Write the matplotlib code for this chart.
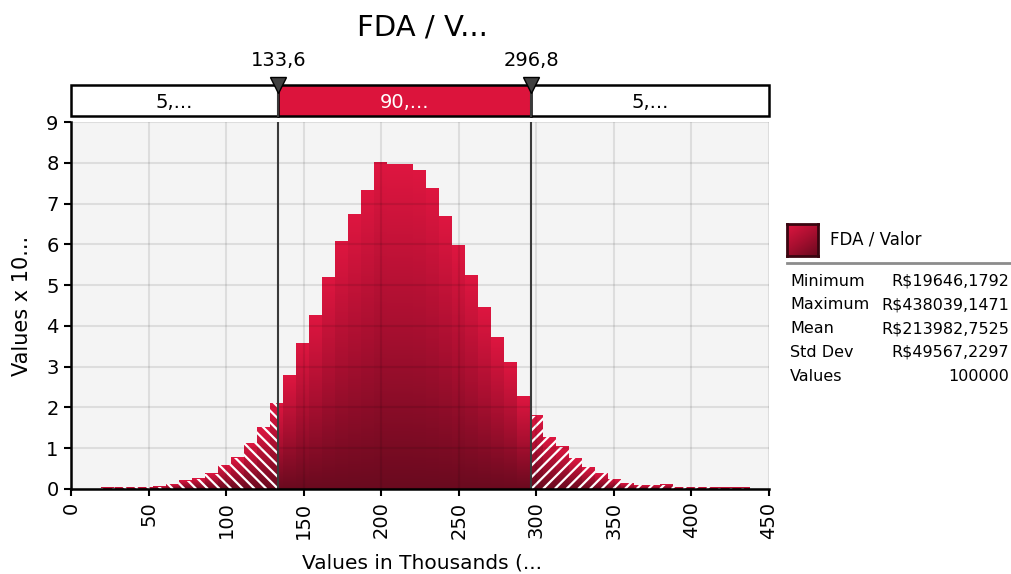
import numpy as np
import matplotlib
matplotlib.use('Agg')
import matplotlib.pyplot as plt
from matplotlib.colors import LinearSegmentedColormap
from matplotlib.patches import Rectangle, PathPatch
from matplotlib.path import Path
from matplotlib.collections import LineCollection
from matplotlib.lines import Line2D

# histogram of FDA / Valor (values in thousands, density x 10^-6)
data_min = 19.6461792
data_max = 438.0391471
heights = [0.03, 0.04, 0.04, 0.04, 0.05, 0.12, 0.20, 0.25, 0.38, 0.58,
           0.77, 1.12, 1.51, 2.10, 2.79, 3.58, 4.26, 5.19, 6.07, 6.73,
           7.32, 8.00, 7.95, 7.95, 7.80, 7.36, 6.68, 5.97, 5.24, 4.46,
           3.72, 3.09, 2.26, 1.80, 1.27, 1.03, 0.75, 0.53, 0.39, 0.24,
           0.14, 0.09, 0.09, 0.10, 0.04, 0.04, 0.04, 0.03, 0.03, 0.03]
cut_lo, cut_hi = 133.6, 296.8
band_labels = ['5,...', '90,...', '5,...']
cut_labels = ['133,6', '296,8']
stat_names = ['Minimum', 'Maximum', 'Mean', 'Std Dev', 'Values']
stat_values = ['R$19646,1792', 'R$438039,1471', 'R$213982,7525', 'R$49567,2297', '100000']

W, H = 1011, 574
fig = plt.figure(figsize=(W / 100, H / 100), dpi=100)
fig.patch.set_facecolor('white')

cmap = LinearSegmentedColormap.from_list('fda', ['#6a0a1f', '#a80f30', '#de1640'])
grad = np.linspace(0, 1, 256).reshape(-1, 1)

ax = fig.add_axes([71 / W, 1 - 489 / H, 698 / W, 367 / H])
ax.set_facecolor('#f4f4f4')

edges = np.linspace(data_min, data_max, len(heights) + 1)
left_paths, right_paths = [], []
for i, h in enumerate(heights):
    lo, hi = edges[i], edges[i + 1]
    for a, b, part in [(lo, min(hi, cut_lo), 'L'), (max(lo, cut_lo), min(hi, cut_hi), 'M'),
                       (max(lo, cut_hi), hi, 'R')]:
        if b <= a:
            continue
        ax.imshow(grad, extent=[a, b, 0, h], origin='lower', aspect='auto',
                  cmap=cmap, zorder=1, interpolation='bilinear')
        rect = Path([(a, 0), (b, 0), (b, h), (a, h), (a, 0)],
                    [Path.MOVETO, Path.LINETO, Path.LINETO, Path.LINETO, Path.CLOSEPOLY])
        if part == 'L':
            left_paths.append(rect)
        elif part == 'R':
            right_paths.append(rect)

# white diagonal hatching on the tails
aw, ah = 698.0, 367.0
step = 11.7 / aw
k = ah / aw
for paths, sign in [(left_paths, -1), (right_paths, 1)]:
    clip = PathPatch(Path.make_compound_path(*paths), transform=ax.transData,
                     facecolor='none', edgecolor='none')
    ax.add_patch(clip)
    segs = []
    for x0 in np.arange(-1.0, 2.0, step):
        if sign > 0:
            segs.append([(x0, 0), (x0 + k, 1)])
        else:
            segs.append([(x0, 1), (x0 + k, 0)])
    lc = LineCollection(segs, colors='white', linewidths=1.6, transform=ax.transAxes, zorder=2)
    lc.set_clip_path(clip)
    ax.add_collection(lc)

ax.set_xlim(0, 450)
ax.set_ylim(0, 9)
ax.set_xticks(np.arange(0, 451, 50))
ax.set_yticks(np.arange(0, 10, 1))
ax.set_axisbelow(False)
ax.grid(True, color='black', alpha=0.09, linewidth=1.5)
for s in ['top', 'right']:
    ax.spines[s].set_visible(False)
for s in ['left', 'bottom']:
    ax.spines[s].set_linewidth(1.8)
    ax.spines[s].set_zorder(5)
ax.tick_params(axis='both', direction='out', length=5, width=1.5, labelsize=14, pad=4)
ax.tick_params(axis='x', labelrotation=90)
for x in (cut_lo, cut_hi):
    ax.axvline(x, color='#3a3a3a', linewidth=1.5, zorder=4)

fig.text(22 / W, 1 - 306 / H, 'Values x 10...', rotation=90, fontsize=15, ha='center', va='center')
fig.text(422 / W, 1 - 563 / H, 'Values in Thousands (...', fontsize=14.5, ha='center', va='center')
fig.text(422 / W, 1 - 27 / H, 'FDA / V...', fontsize=21, ha='center', va='center')

# percentage band above the chart
band = fig.add_axes([71 / W, 1 - 116 / H, 698 / W, 31 / H])
band.set_xlim(0, 450)
band.set_ylim(0, 1)
band.axis('off')
sections = [(0, cut_lo, 'white', 'black'), (cut_lo, cut_hi, '#dc143c', 'white'), (cut_hi, 450, 'white', 'black')]
for (a, b, fc, tc), lab in zip(sections, band_labels):
    band.add_patch(Rectangle((a, 0), b - a, 1, facecolor=fc, edgecolor='black', linewidth=1.8, clip_on=False))
    band.text((a + b) / 2, 0.45, lab, color=tc, fontsize=14, ha='center', va='center')
for x, lab in zip((cut_lo, cut_hi), cut_labels):
    band.plot([x, x], [0, 1], color='#3a3a3a', linewidth=1.5, zorder=4, clip_on=False)
    band.plot(x, 1.0, marker='v', markersize=11, color='#404040', markeredgecolor='black',
              markeredgewidth=1, clip_on=False, zorder=6)
    band.text(x, 1.78, lab, fontsize=14, ha='center', va='center')

# legend swatch and statistics
sw = fig.add_axes([787 / W, 1 - 256 / H, 31 / W, 32 / H])
yy, xx = np.mgrid[0:1:64j, 0:1:64j]
sw.imshow((1 - yy) * 0.6 + (1 - xx) * 0.4, origin='upper', cmap=cmap, aspect='auto',
          extent=[0, 1, 0, 1], vmin=0, vmax=1)
sw.set_xticks([])
sw.set_yticks([])
for s in sw.spines.values():
    s.set_color('#3a0510')
    s.set_linewidth(2)
fig.text(830 / W, 1 - 240 / H, 'FDA / Valor', fontsize=12, ha='left', va='center')
fig.add_artist(Line2D([787 / W, 1010 / W], [1 - 263 / H, 1 - 263 / H], color='#8c8c8c',
                      linewidth=2, transform=fig.transFigure))
for j, (n, v) in enumerate(zip(stat_names, stat_values)):
    y = 1 - (281 + j * 23.8) / H
    fig.text(790 / W, y, n, fontsize=11.5, ha='left', va='center')
    fig.text(1009 / W, y, v, fontsize=11.5, ha='right', va='center')

fig.savefig('out.png', dpi=100)
